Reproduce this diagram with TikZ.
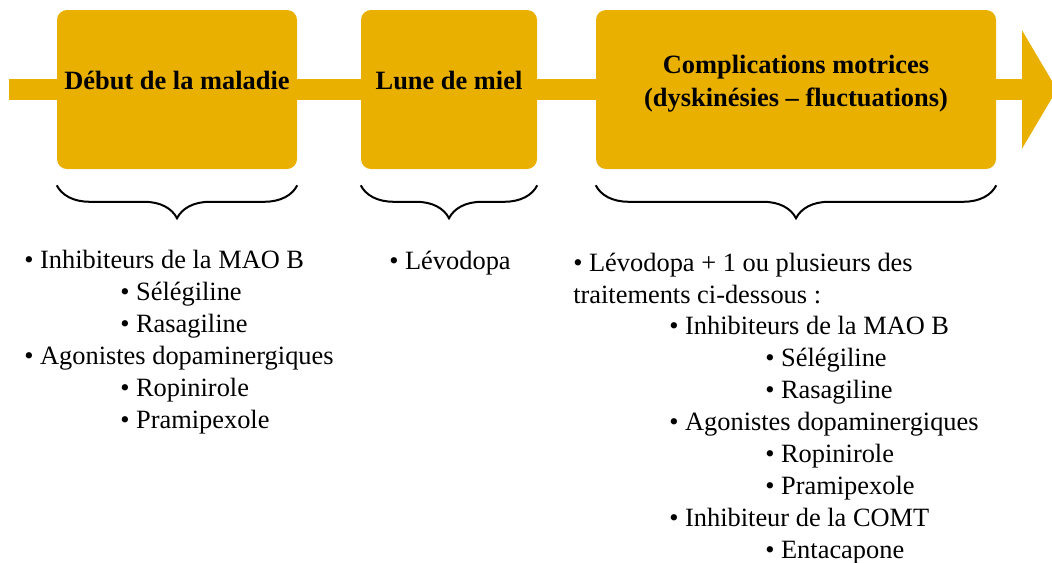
\documentclass[tikz,border=0pt]{standalone}
\usepackage{fontspec}
\setmainfont{Liberation Serif}
\usepackage{tikz}
\usetikzlibrary{arrows.meta, decorations.pathreplacing}

\definecolor{stagegold}{RGB}{233,176,0}
\newcommand{\puce}{\textbullet\ }

\begin{document}
\begin{tikzpicture}[x=0.75pt, y=-0.75pt,
    stage/.style={fill=stagegold, rounded corners=7.5pt, minimum height=119.25pt, inner sep=0pt},
    stagetext/.style={font=\fontsize{19.8pt}{24.5pt}\selectfont\bfseries, align=center, inner sep=0pt},
    band/.style={draw=stagegold, line width=15.75pt},
    bracket/.style={decorate, decoration={brace, mirror, amplitude=24.75pt}, line width=1.5pt},
    drugs/.style={font=\fontsize{19.8pt}{23.9pt}\selectfont, anchor=base west, align=left, inner sep=0pt}]
    \useasboundingbox (0,0) rectangle (1052,562);

    % Timeline stages
    \node[stage, minimum width=180pt] (debut) at (177,89.5) {};
    \node[stage, minimum width=132pt] (lune) at (449,89.5) {};
    \node[stage, minimum width=300pt] (compl) at (796,89.5) {};

    \node[stagetext] (debuttxt) at ([yshift=6.4pt]debut.center) {Début de la maladie};
    \node[stagetext] (lunetxt) at ([yshift=6.4pt]lune.center) {Lune de miel};
    \node[stagetext] (compltxt) at ([yshift=4.5pt]compl.center) {Complications motrices\\(dyskinésies -- fluctuations)};

    % Band joining the stages
    \coordinate (start) at (9,89.5);
    \coordinate (stop) at (1057,89.5);
    \draw[band] (start) -- (debut.west);
    \draw[band] (debut.east) -- (lune.west);
    \draw[band] (lune.east) -- (compl.west);
    \draw[band, -{Triangle[length=26.25pt, width=87.75pt]}, stagegold] (compl.east) -- (stop);

    % Braces under the stages
    \draw[bracket] ([yshift=-12pt]debut.south west) -- ([yshift=-12pt]debut.south east);
    \draw[bracket] ([yshift=-12pt]lune.south west) -- ([yshift=-12pt]lune.south east);
    \draw[bracket] ([yshift=-12pt]compl.south west) -- ([yshift=-12pt]compl.south east);

    % Treatments (base = last line)
    \node[drugs] (debutlist) at (24,428.3) {\puce Inhibiteurs de la MAO B\\
        \hspace*{72pt}\puce Sélégiline\\
        \hspace*{72pt}\puce Rasagiline\\
        \puce Agonistes dopaminergiques\\
        \hspace*{72pt}\puce Ropinirole\\
        \hspace*{72pt}\puce Pramipexole};
    \node[drugs] (lunelist) at (389,269) {\puce Lévodopa};
    \node[drugs] (compllist) at (573,558) {\puce Lévodopa + 1 ou plusieurs des\\
        traitements ci-dessous :\\
        \hspace*{72pt}\puce Inhibiteurs de la MAO B\\
        \hspace*{144pt}\puce Sélégiline\\
        \hspace*{144pt}\puce Rasagiline\\
        \hspace*{72pt}\puce Agonistes dopaminergiques\\
        \hspace*{144pt}\puce Ropinirole\\
        \hspace*{144pt}\puce Pramipexole\\
        \hspace*{72pt}\puce Inhibiteur de la COMT\\
        \hspace*{144pt}\puce Entacapone};
\end{tikzpicture}
\end{document}
